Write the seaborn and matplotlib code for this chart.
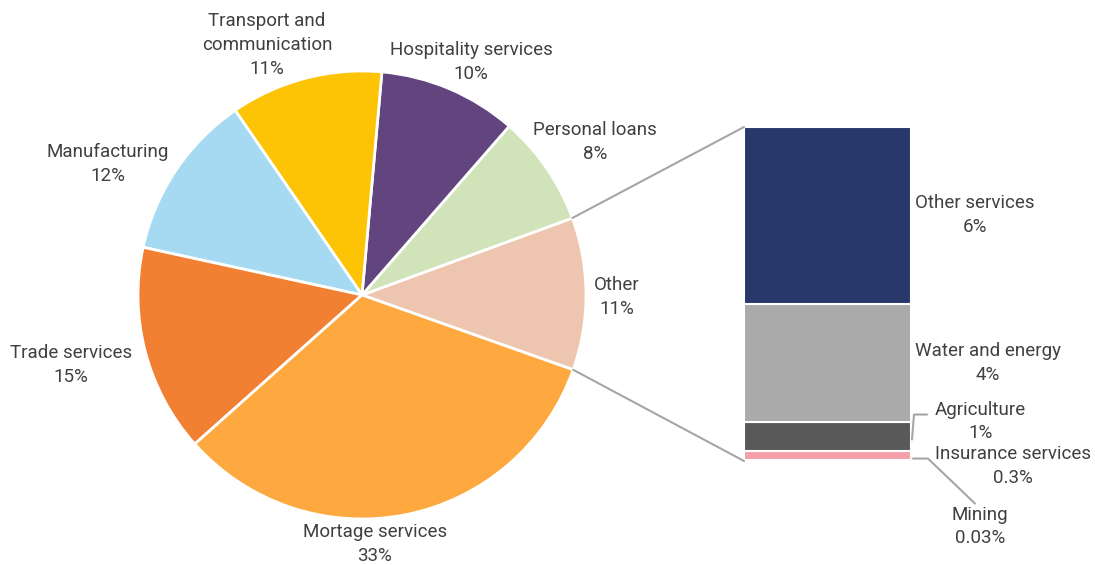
import matplotlib
matplotlib.use("Agg")
import matplotlib.pyplot as plt
from matplotlib.lines import Line2D
from matplotlib.patches import ConnectionPatch
import numpy as np
import seaborn as sns

# Loan book by sector (pie, counter-clockwise order)
pie_labels = ["Other", "Personal loans", "Hospitality services",
              "Transport and\ncommunication", "Manufacturing",
              "Trade services", "Mortage services"]
pie_values = [11, 8, 10, 11, 12, 15, 33]
pie_colors = ["#EEC6B0", "#D0E3B9", "#62447E", "#FDC305",
              "#A6DAF2", "#F28032", "#FDA93F"]

# Breakdown of "Other" (stacked bar, bottom to top)
bar_labels = ["Mining", "Insurance services", "Agriculture",
              "Water and energy", "Other services"]
bar_values = [0.03, 0.3, 1, 4, 6]
bar_colors = ["#F7C7B5", "#F4A0A8", "#595959", "#ABAAAA", "#29386B"]

W, H = 1095, 565
TXT = "#404040"
LINE = "#A6A6A6"
FS = 13.5
LS = 1.42

sns.set_theme(style="white")
plt.rcParams["font.family"] = ["Roboto", "DejaVu Sans"]

fig = plt.figure(figsize=(W / 100, H / 100), dpi=100)
inv = fig.transFigure.inverted()


def fx(px):
    return px / W


def fy(py):
    return 1 - py / H


def label(px_xy, text, ha="center"):
    p = inv.transform(px_xy)
    fig.text(p[0], p[1], text, ha=ha, va="center", multialignment="center",
             fontsize=FS, color=TXT, linespacing=LS)


# ---- pie ----
cx, cy, r = 362, 295, 224
ax_pie = fig.add_axes([fx(cx - r), fy(cy + r), 2 * r / W, 2 * r / H])
wedges, _ = ax_pie.pie(pie_values, colors=pie_colors, startangle=-19.5,
                       counterclock=True,
                       wedgeprops=dict(edgecolor="white", linewidth=2))
ax_pie.set_xlim(-1, 1)
ax_pie.set_ylim(-1, 1)
ax_pie.set_aspect("equal")
ax_pie.axis("off")

pie_label_pos = [(617, 297), (595, 142), (471, 62), (267, 45),
                 (108, 164), (71, 365), (375, 544)]
for lab, val, (px, py) in zip(pie_labels, pie_values, pie_label_pos):
    label((px, H - py), f"{lab}\n{val:g}%")

# ---- stacked bar ----
bx0, bx1, by0, by1 = 744, 911, 127, 461
ax_bar = fig.add_axes([fx(bx0), fy(by1), (bx1 - bx0) / W, (by1 - by0) / H])
bottom = 0.0
bottoms = []
for lab, val, col in zip(bar_labels, bar_values, bar_colors):
    sns.barplot(x=[0], y=[val], bottom=bottom, color=col, width=1,
                saturation=1, edgecolor="white", linewidth=1.5, ax=ax_bar)
    bottoms.append(bottom)
    bottom += val
total = bottom
ax_bar.set_xlim(-0.5, 0.5)
ax_bar.set_ylim(0, total)
ax_bar.axis("off")

# connector lines between the "Other" wedge and the bar
other = wedges[0]
for ang, yb in ((other.theta2, total), (other.theta1, 0)):
    t = np.deg2rad(ang)
    con = ConnectionPatch(xyA=(np.cos(t), np.sin(t)), coordsA=ax_pie.transData,
                          xyB=(-0.5, yb), coordsB=ax_bar.transData,
                          color=LINE, linewidth=1.5)
    fig.add_artist(con)


def seg_anchor(i):
    """Right edge of segment i, at its vertical middle, in pixels."""
    y = bottoms[i] + bar_values[i] / 2
    return ax_bar.transData.transform((0.5, y))


def bar_text(i):
    return f"{bar_labels[i]}\n{bar_values[i]:g}%"


# labels beside the large segments
for i in (3, 4):
    x, y = seg_anchor(i)
    label((x + 4, y), bar_text(i), ha="left")

# Agriculture with elbow leader
x, y = seg_anchor(2)
pts = np.array([[x + 1, y - 3], [x + 3, y + 22], [x + 16, y + 22]])
fp = inv.transform(pts)
fig.add_artist(Line2D(fp[:, 0], fp[:, 1], color=LINE, lw=1.5,
                      transform=fig.transFigure))
label((x + 24, y + 15), bar_text(2), ha="left")

# Insurance services beside its thin segment
x, y = seg_anchor(1)
label((x + 24, y - 10), bar_text(1), ha="left")

# Mining with angled leader
x, y = seg_anchor(0)
pts = np.array([[x + 2, y + 2], [x + 17, y + 2], [x + 64, y - 43]])
fp = inv.transform(pts)
fig.add_artist(Line2D(fp[:, 0], fp[:, 1], color=LINE, lw=1.5,
                      transform=fig.transFigure))
label((x + 69, y - 66), bar_text(0))

fig.savefig("out.png", dpi=100)
